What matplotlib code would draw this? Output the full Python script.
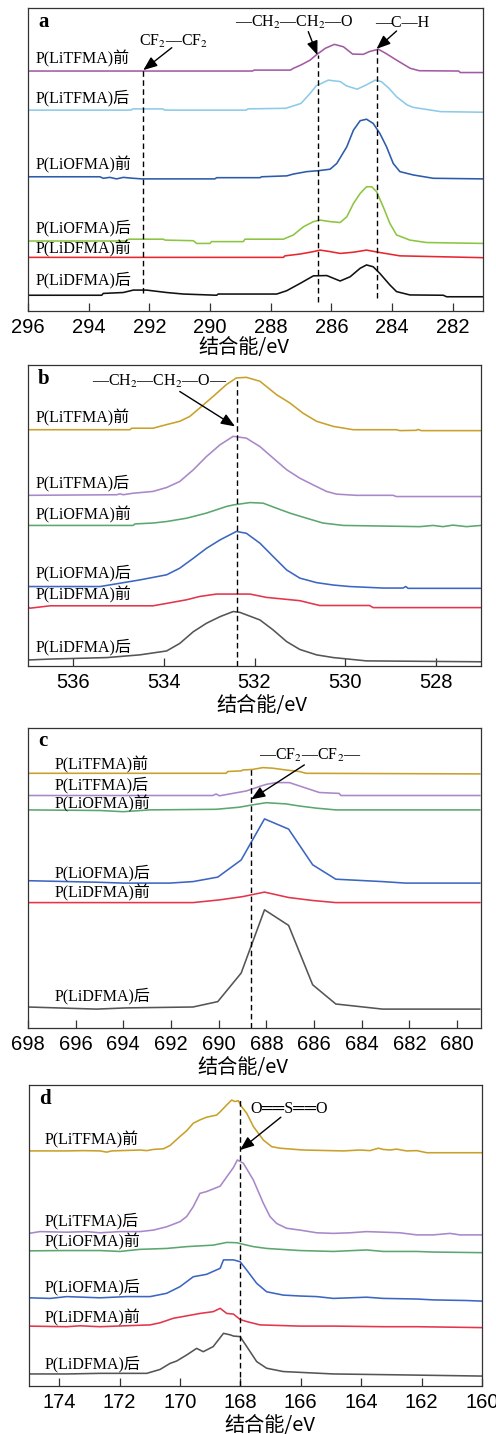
import matplotlib
matplotlib.use("Agg")
import matplotlib.pyplot as plt

plt.rcParams['mathtext.fontset'] = 'stix'

SERIF = ['Liberation Serif', 'Noto Sans CJK SC', 'DejaVu Serif']
SANS = ['Liberation Sans', 'DejaVu Sans']
CJK = ['Noto Sans CJK SC', 'DejaVu Sans']

labels = ['P(LiTFMA)前', 'P(LiTFMA)后', 'P(LiOFMA)前', 'P(LiOFMA)后', 'P(LiDFMA)前', 'P(LiDFMA)后']

# ---------------- panel a (C 1s) ----------------
a_xlim = (296, 281)
a_ticks = [296, 294, 292, 290, 288, 286, 284, 282]
a1_e = [296.0, 288.6, 288.55, 287.35, 287.25, 287.0, 286.7, 286.5, 286.2, 285.9, 285.6, 285.3, 284.95, 284.75, 284.45, 284.2, 283.85, 283.4, 283.1, 281.8, 281.75, 281.0]
a1_i = [79.2, 79.2, 79.5, 79.5, 80.1, 81.2, 82.8, 84.5, 86.7, 88.0, 87.2, 84.8, 84.7, 85.6, 86.4, 85.0, 82.8, 80.1, 79.3, 79.2, 78.7, 78.7]
a2_e = [296.0, 292.6, 292.55, 291.55, 291.5, 288.8, 288.75, 287.5, 287.25, 287.0, 286.7, 286.5, 286.1, 285.7, 285.5, 285.15, 284.85, 284.55, 284.35, 284.1, 283.85, 283.5, 283.3, 282.4, 281.0]
a2_i = [66.3, 66.3, 66.7, 66.7, 66.3, 66.3, 66.7, 66.9, 67.7, 68.5, 71.8, 74.3, 76.2, 75.7, 74.3, 73.2, 74.6, 76.2, 75.7, 73.5, 70.7, 68.0, 67.2, 65.8, 65.6]
a3_e = [296.0, 293.63, 293.52, 293.3, 293.08, 292.86, 292.53, 292.25, 289.84, 289.78, 288.35, 288.3, 287.47, 287.25, 286.81, 286.43, 286.04, 285.82, 285.49, 285.27, 285.05, 284.84, 284.62, 284.4, 284.18, 283.96, 283.74, 283.3, 282.64, 281.0]
a3_i = [44.3, 44.3, 43.8, 44.1, 43.6, 44.1, 43.8, 43.6, 43.6, 44.0, 44.0, 44.3, 44.6, 45.2, 46.0, 46.3, 46.8, 48.7, 54.2, 59.7, 62.8, 63.3, 61.9, 58.6, 54.2, 48.7, 46.0, 44.9, 43.8, 43.6]
a4_e = [296.0, 292.75, 292.69, 291.54, 291.48, 290.55, 290.44, 290.0, 289.95, 288.9, 288.85, 287.58, 287.25, 286.92, 286.59, 286.37, 286.04, 285.71, 285.49, 285.27, 285.05, 284.84, 284.67, 284.51, 284.29, 284.07, 283.85, 283.41, 282.86, 281.0]
a4_i = [23.1, 23.1, 23.7, 23.7, 23.4, 23.2, 22.3, 22.3, 22.9, 22.9, 23.7, 23.7, 25.1, 27.8, 29.5, 30.0, 29.5, 29.2, 31.1, 35.5, 38.8, 41.0, 41.0, 39.4, 34.4, 28.9, 25.1, 23.4, 22.6, 22.3]
a5_e = [296.0, 287.58, 287.53, 287.03, 286.59, 286.37, 286.04, 285.71, 285.27, 284.84, 284.4, 283.74, 281.0]
a5_i = [17.7, 17.7, 18.2, 18.8, 19.6, 20.1, 19.6, 19.0, 19.4, 20.1, 19.3, 18.2, 17.6]
a6_e = [296.0, 293.57, 293.52, 292.86, 292.53, 292.09, 291.43, 290.88, 289.78, 289.73, 287.8, 287.47, 287.03, 286.59, 286.15, 285.93, 285.71, 285.38, 285.05, 284.84, 284.62, 284.4, 284.07, 283.85, 283.41, 282.31, 282.2, 281.0]
a6_i = [5.2, 5.2, 5.8, 6.1, 6.9, 6.9, 6.1, 5.6, 5.2, 5.6, 5.6, 6.7, 9.1, 11.6, 11.7, 10.8, 9.9, 11.3, 14.1, 15.2, 14.6, 12.4, 8.6, 6.4, 5.3, 5.2, 4.7, 4.7]
a_colors = ['#a25ba3', '#8ccbe8', '#2b5bab', '#8cc540', '#e8262e', '#111111']
a_label_y = [83.4, 70.2, 48.2, 27.3, 20.4, 10.2]
a_label_x = 295.75

# ---------------- panel b (O 1s) ----------------
b_xlim = (537, 527)
b_ticks = [536, 534, 532, 530, 528]
b1_e = [537.0, 534.75, 534.71, 534.24, 533.94, 533.65, 533.43, 533.21, 532.91, 532.62, 532.4, 532.18, 531.88, 531.51, 531.22, 530.93, 530.63, 530.26, 529.82, 528.87, 528.79, 528.43, 528.39, 528.32, 527.0]
b1_i = [78.5, 78.5, 79.0, 79.0, 80.2, 81.3, 82.9, 85.7, 89.6, 93.5, 95.7, 95.9, 94.6, 90.1, 87.4, 84.0, 81.3, 79.6, 78.5, 78.5, 78.2, 78.3, 78.6, 78.2, 78.2]
b2_e = [537.0, 535.04, 534.97, 534.9, 534.68, 534.24, 533.94, 533.65, 533.35, 533.06, 532.76, 532.47, 532.18, 531.88, 531.59, 531.29, 531.0, 530.71, 530.41, 530.19, 529.75, 528.94, 528.87, 527.0]
b2_i = [56.7, 56.9, 57.2, 56.9, 57.4, 58.0, 59.3, 61.3, 65.2, 69.6, 73.5, 76.3, 75.7, 72.9, 69.1, 65.2, 62.4, 60.2, 58.0, 57.1, 56.7, 56.7, 56.3, 56.3]
b3_e = [537.0, 534.68, 534.64, 534.24, 533.94, 533.5, 533.06, 532.62, 532.47, 532.1, 531.81, 531.51, 531.22, 530.85, 530.49, 530.04, 528.35, 528.06, 527.84, 527.62, 527.32, 527.0]
b3_i = [46.7, 46.7, 47.2, 47.5, 48.0, 49.1, 50.8, 53.0, 53.5, 54.3, 54.1, 52.4, 50.8, 49.1, 47.5, 46.7, 46.3, 46.7, 46.3, 46.8, 46.3, 46.7]
b4_e = [537.0, 535.41, 534.97, 534.53, 533.94, 533.65, 533.35, 533.06, 532.76, 532.4, 532.18, 531.88, 531.59, 531.29, 531.0, 530.63, 530.26, 529.9, 529.16, 528.72, 528.66, 528.61, 527.0]
b4_i = [26.4, 26.4, 27.5, 28.6, 30.3, 32.5, 35.8, 39.1, 41.9, 44.7, 44.1, 40.8, 36.4, 31.9, 29.2, 27.7, 26.9, 26.4, 25.9, 25.9, 26.4, 25.8, 25.8]
b5_e = [537.0, 536.96, 536.51, 534.24, 533.94, 533.5, 533.21, 532.84, 532.1, 531.74, 531.0, 530.56, 529.46, 529.38, 527.0]
b5_i = [19.7, 19.2, 20.0, 20.0, 20.8, 22.0, 23.1, 23.9, 23.9, 22.8, 21.7, 20.1, 20.1, 19.4, 19.4]
b6_e = [537.0, 536.51, 535.26, 534.53, 533.94, 533.65, 533.35, 533.06, 532.76, 532.47, 532.32, 531.88, 531.59, 531.29, 531.0, 530.63, 530.26, 529.53, 527.0]
b6_i = [2.0, 2.3, 2.8, 3.7, 5.0, 7.5, 11.4, 14.2, 16.4, 18.1, 17.8, 15.3, 12.0, 8.1, 5.5, 3.7, 2.8, 1.7, 1.4]
b_colors = ['#c9a12a', '#a987c9', '#5ca66f', '#3c66c2', '#e3354c', '#555555']
b_label_y = [82.4, 60.8, 50.2, 30.8, 23.6, 6.2]
b_label_x = 536.83

# ---------------- panel c (F 1s) ----------------
c_xlim = (698, 679)
c_ticks = [698, 696, 694, 692, 690, 688, 686, 684, 682, 680]
c1_e = [698.0, 689.69, 689.62, 689.06, 688.99, 688.57, 688.15, 687.73, 687.18, 686.62, 686.34, 679.05]
c1_i = [84.9, 84.9, 85.5, 85.7, 86.0, 86.2, 86.8, 86.6, 86.0, 85.5, 84.9, 84.7]
c2_e = [698.0, 690.25, 690.11, 689.97, 689.41, 688.85, 688.29, 688.01, 687.6, 687.04, 686.62, 686.2, 685.78, 684.95, 684.88, 679.05]
c2_i = [77.5, 77.5, 78.0, 77.4, 78.2, 79.0, 80.5, 81.2, 81.8, 81.8, 80.7, 79.6, 78.5, 78.2, 77.5, 77.5]
c3_e = [698.0, 694.99, 694.01, 692.9, 690.11, 689.13, 688.57, 688.01, 687.18, 686.62, 685.92, 685.09, 679.05]
c3_i = [72.7, 72.5, 72.1, 72.7, 72.9, 73.6, 74.4, 75.1, 74.7, 74.0, 73.3, 72.7, 72.7]
c4_e = [698.0, 695.13, 694.01, 692.06, 691.08, 690.04, 689.06, 688.08, 687.07, 686.06, 685.09, 683.13, 682.16, 679.05]
c4_i = [49.1, 48.6, 48.3, 48.3, 48.8, 50.3, 56.0, 69.7, 66.3, 54.4, 49.6, 48.8, 48.3, 48.3]
c5_e = [698.0, 691.08, 689.97, 688.99, 688.08, 687.07, 686.06, 685.09, 679.05]
c5_i = [41.8, 41.8, 42.7, 43.8, 45.3, 43.5, 42.5, 41.8, 41.8]
c6_e = [698.0, 695.13, 693.87, 691.08, 690.04, 689.06, 688.08, 687.07, 686.06, 685.09, 683.13, 679.05]
c6_i = [7.0, 6.3, 6.7, 7.0, 8.8, 18.3, 39.4, 34.2, 14.4, 8.0, 6.3, 6.3]
c_colors = b_colors
c_label_y = [87.7, 81.0, 74.9, 51.8, 45.2, 10.8]
c_label_x = 696.9

# ---------------- panel d (S 2p) ----------------
d_xlim = (175, 160)
d_ticks = [174, 172, 170, 168, 166, 164, 162, 160]
d1_e = [175.0, 173.75, 173.2, 172.65, 172.43, 172.26, 171.32, 171.1, 170.88, 170.55, 170.33, 170.0, 169.78, 169.56, 169.34, 169.12, 168.79, 168.67, 168.45, 168.29, 168.18, 168.07, 167.96, 167.79, 167.57, 167.24, 166.96, 166.69, 165.92, 164.59, 164.04, 163.71, 163.43, 163.27, 163.05, 162.83, 162.5, 162.16, 161.83, 160.0]
d1_i = [78.1, 78.1, 78.2, 78.1, 77.7, 78.1, 78.4, 78.2, 78.6, 78.8, 79.9, 82.9, 84.8, 87.3, 88.4, 89.3, 90.0, 91.1, 93.4, 95.0, 94.5, 94.8, 92.8, 90.6, 86.2, 81.7, 79.5, 79.0, 78.4, 78.1, 78.4, 78.2, 79.0, 78.6, 78.4, 78.7, 78.1, 78.2, 77.5, 77.5]
d2_e = [175.0, 174.64, 173.75, 173.09, 172.65, 171.99, 171.32, 170.88, 170.44, 170.0, 169.78, 169.56, 169.34, 169.12, 168.67, 168.45, 168.23, 168.1, 167.9, 167.57, 167.24, 167.02, 166.8, 166.47, 166.03, 165.47, 164.92, 164.37, 163.82, 162.72, 162.16, 161.61, 161.06, 160.73, 160.0]
d2_i = [50.7, 51.3, 51.1, 51.3, 50.9, 51.3, 51.3, 51.8, 52.9, 54.6, 56.3, 59.6, 64.0, 64.6, 66.4, 69.5, 72.6, 75.1, 74.0, 68.4, 60.7, 56.3, 54.0, 52.4, 51.8, 50.9, 50.7, 50.9, 51.3, 50.9, 50.2, 50.2, 50.7, 50.2, 50.2]
d3_e = [175.0, 173.75, 172.65, 171.99, 171.32, 170.44, 169.78, 168.9, 168.45, 168.12, 167.79, 167.57, 167.13, 166.03, 164.92, 163.82, 163.27, 162.16, 161.61, 160.0]
d3_i = [44.9, 45.0, 45.0, 44.7, 45.4, 45.7, 46.3, 46.8, 47.7, 47.6, 46.8, 46.3, 45.7, 45.0, 44.7, 45.2, 44.7, 44.7, 44.5, 44.3]
d4_e = [175.0, 174.3, 173.75, 172.65, 171.77, 170.99, 170.44, 170.0, 169.56, 169.12, 168.67, 168.56, 168.23, 168.01, 167.79, 167.46, 167.13, 166.58, 166.03, 165.47, 164.92, 163.82, 163.27, 162.16, 161.61, 160.51, 160.0]
d4_i = [29.3, 29.1, 29.7, 29.3, 29.7, 29.7, 30.8, 33.0, 36.3, 37.1, 39.1, 41.9, 41.9, 41.3, 38.5, 34.1, 31.3, 30.2, 29.9, 29.7, 29.1, 29.5, 29.1, 28.9, 28.6, 28.4, 28.2]
d5_e = [175.0, 173.75, 173.31, 172.65, 170.99, 170.66, 170.22, 169.78, 169.34, 168.9, 168.67, 168.45, 168.23, 168.01, 167.79, 167.35, 166.03, 164.92, 163.27, 162.16, 160.0]
d5_i = [19.9, 19.7, 20.0, 19.7, 20.3, 21.0, 22.5, 23.3, 24.1, 24.7, 25.8, 24.1, 23.9, 22.1, 21.4, 20.3, 19.9, 19.9, 19.7, 19.7, 19.4]
d6_e = [175.0, 173.75, 172.65, 171.1, 170.66, 170.33, 170.11, 169.78, 169.45, 169.23, 168.9, 168.56, 168.34, 168.23, 168.01, 167.79, 167.46, 167.13, 166.58, 164.92, 162.72, 160.0]
d6_i = [4.0, 4.0, 4.2, 4.2, 5.5, 7.5, 8.3, 10.3, 12.5, 11.4, 13.1, 17.5, 17.0, 16.6, 16.4, 13.1, 8.1, 5.9, 4.8, 4.0, 3.7, 3.3]
d_colors = b_colors
d_label_y = [81.7, 54.9, 48.0, 33.0, 22.8, 7.3]
d_label_x = 174.47

# reference lines: (energy, top intensity, bottom intensity)
a_vlines = [(292.2, 79.5, 5.8), (286.43, 84.5, 3.1), (284.5, 86.4, 4.4)]
b_vlines = [(532.39, 95.7, 0)]
c_vlines = [(688.64, 86.3, 0)]
d_vlines = [(168.0, 95.0, 0)]

# annotations: (text, text_x, text_y, arrow tail x, y, arrow head x, y)
a_notes = [('CF$_2$—CF$_2$', 291.19, 88.9, 291.26, 86.9, 292.2, 79.5),
           ('—CH$_2$—CH$_2$—O', 287.23, 95.2, 286.76, 92.2, 286.46, 84.5),
           ('—C—H', 283.67, 95.2, 283.85, 92.4, 284.51, 86.5)]
b_notes = [('—CH$_2$—CH$_2$—O—', 534.1, 94.6, 533.65, 91.2, 532.43, 79.6)]
c_notes = [('—CF$_2$—CF$_2$—', 686.15, 91.0, 686.41, 87.7, 688.64, 76.2)]
d_notes = [('O══S══O', 166.38, 92.0, 166.66, 89.3, 168.01, 78.4)]

# x-label centre (axes fraction)
xlabel_pos = [(0.474, -0.119), (0.517, -0.132), (0.475, -0.13), (0.532, -0.132)]

panels = [
    ('a', a_xlim, a_ticks, [(a1_e, a1_i), (a2_e, a2_i), (a3_e, a3_i), (a4_e, a4_i), (a5_e, a5_i), (a6_e, a6_i)], a_colors, a_label_x, a_label_y, a_vlines, a_notes),
    ('b', b_xlim, b_ticks, [(b1_e, b1_i), (b2_e, b2_i), (b3_e, b3_i), (b4_e, b4_i), (b5_e, b5_i), (b6_e, b6_i)], b_colors, b_label_x, b_label_y, b_vlines, b_notes),
    ('c', c_xlim, c_ticks, [(c1_e, c1_i), (c2_e, c2_i), (c3_e, c3_i), (c4_e, c4_i), (c5_e, c5_i), (c6_e, c6_i)], c_colors, c_label_x, c_label_y, c_vlines, c_notes),
    ('d', d_xlim, d_ticks, [(d1_e, d1_i), (d2_e, d2_i), (d3_e, d3_i), (d4_e, d4_i), (d5_e, d5_i), (d6_e, d6_i)], d_colors, d_label_x, d_label_y, d_vlines, d_notes),
]

W, H = 496, 1434
fig = plt.figure(figsize=(W / 100, H / 100), dpi=100)
boxes = [(28, 483, 8, 311), (28, 481, 365, 666), (28, 481, 728, 1028), (29, 482, 1085, 1386)]

for (letter, xlim, ticks, series, colors, lx, ly, vlines, notes), (x0, x1, y0, y1), (xlx, xly) in zip(panels, boxes, xlabel_pos):
    ax = fig.add_axes([x0 / W, 1 - y1 / H, (x1 - x0) / W, (y1 - y0) / H])
    for (e, i), col in zip(series, colors):
        ax.plot(e, i, color=col, lw=1.15)
    for lab, yy in zip(labels, ly):
        ax.text(lx, yy, lab, ha='left', va='center', fontsize=11.5, family=SERIF)
    for xv, top, bot in vlines:
        ax.plot([xv, xv], [bot, top], color='black', lw=1.0, ls=(0, (4, 2.5)))
    for txt, tx, ty, ax0, ay0, ax1, ay1 in notes:
        ax.text(tx, ty, txt, ha='center', va='center', fontsize=11.5, family=['Liberation Serif', 'DejaVu Serif'])
        ax.annotate('', xy=(ax1, ay1), xytext=(ax0, ay0),
                    arrowprops=dict(arrowstyle='-|>,head_length=0.7,head_width=0.28', color='black', lw=1.0, shrinkA=0, shrinkB=0, mutation_scale=12))
    ax.text(0.022, 0.955, letter, transform=ax.transAxes, ha='left', va='center', fontsize=15, fontweight='bold', family=SERIF)
    ax.set_xlim(*xlim)
    ax.set_ylim(0, 100)
    ax.set_yticks([])
    ax.set_xticks(ticks)
    ax.set_xticklabels([str(t) for t in ticks], family=SANS, fontsize=14.5)
    ax.tick_params(axis='x', direction='in', length=6, width=0.9, pad=5, color='#333333')
    for s in ax.spines.values():
        s.set_color('#333333')
        s.set_linewidth(0.9)
    ax.set_xlabel('结合能/eV', family=CJK, fontsize=14.5, va='center')
    ax.xaxis.set_label_coords(xlx, xly)

fig.savefig('out.png', dpi=100)
